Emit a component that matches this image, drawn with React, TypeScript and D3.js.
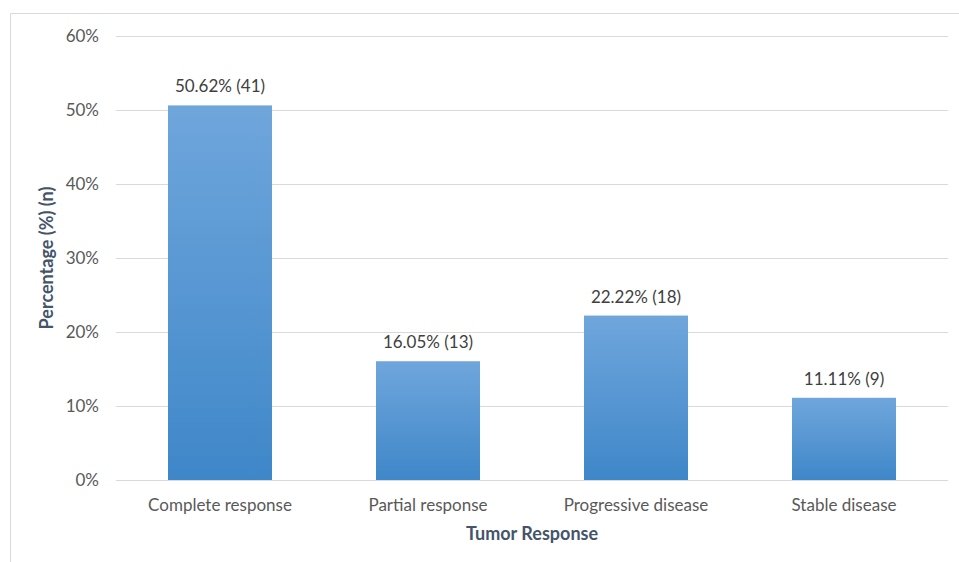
import React from "react";
import * as d3 from "d3";

const categories = ["Complete response", "Partial response", "Progressive disease", "Stable disease"];
const percentages = [50.62, 16.05, 22.22, 11.11];
const counts = [41, 13, 18, 9];
const yTicks = [0, 10, 20, 30, 40, 50, 60];

const W = 959;
const H = 562;
const FONT = "Lato, 'Open Sans', sans-serif";

export default function App() {
  const x = d3.scaleBand<string>().domain(categories).range([116, 948]).paddingInner(0.5).paddingOuter(0.25);
  const y = d3.scaleLinear().domain([0, 60]).range([480, 36]);

  return (
    <svg width={W} height={H} style={{ position: "absolute", left: 0, top: 0, background: "#fff" }}>
      <defs>
        <linearGradient id="barGrad" x1="0" y1="0" x2="0" y2="1">
          <stop offset="0%" stopColor="#6fa6dc" />
          <stop offset="100%" stopColor="#3f87c9" />
        </linearGradient>
      </defs>
      <rect x={0} y={0} width={W} height={H} fill="#fff" />
      <path d={`M10.5,${H} V13.5 H${W}`} fill="none" stroke="#d9d9d9" strokeWidth={1} />
      {yTicks.map((t) => (
        <g key={t}>
          <line x1={116} x2={948} y1={Math.round(y(t)) + 0.5} y2={Math.round(y(t)) + 0.5} stroke="#d9d9d9" strokeWidth={1} />
          <text x={99} y={y(t) + 6} textAnchor="end" fontFamily={FONT} fontSize={17} fill="#595959">
            {t}%
          </text>
        </g>
      ))}
      {categories.map((c, i) => {
        const bx = x(c)!;
        const bw = x.bandwidth();
        const top = y(percentages[i]);
        return (
          <g key={c}>
            <rect x={bx} y={top} width={bw} height={y(0) - top} fill="url(#barGrad)" />
            <text x={bx + bw / 2} y={top - 13} textAnchor="middle" fontFamily={FONT} fontSize={17} fill="#404040">
              {`${percentages[i].toFixed(2)}% (${counts[i]})`}
            </text>
            <text x={bx + bw / 2} y={511} textAnchor="middle" fontFamily={FONT} fontSize={17} fill="#595959">
              {c}
            </text>
          </g>
        );
      })}
      <text x={532} y={540} textAnchor="middle" fontFamily={FONT} fontSize={18} fontWeight="bold" fill="#44546a">
        Tumor Response
      </text>
      <text
        transform={`translate(53,258) rotate(-90)`}
        textAnchor="middle"
        fontFamily={FONT}
        fontSize={18}
        fontWeight="bold"
        fill="#44546a"
      >
        Percentage (%) (n)
      </text>
    </svg>
  );
}
